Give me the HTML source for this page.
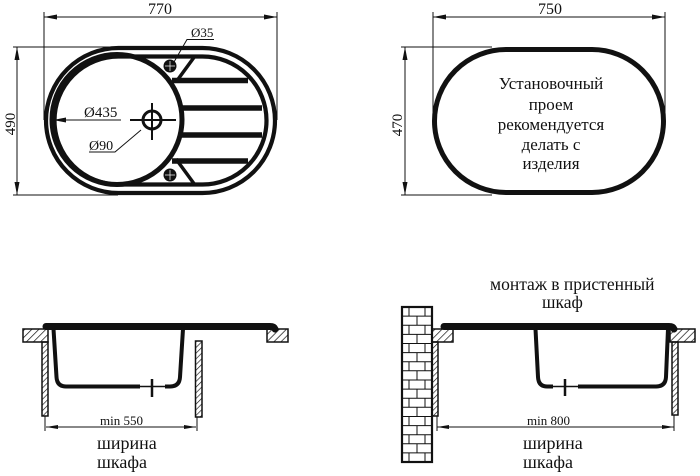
<!DOCTYPE html>
<html>
<head>
<meta charset="utf-8">
<style>
html,body{margin:0;padding:0;background:#fff;}
svg{display:block;}
text{font-family:"Liberation Serif","Noto Serif CJK SC",serif;fill:#111;}
</style>
</head>
<body>
<svg width="700" height="476" viewBox="0 0 700 476" xmlns="http://www.w3.org/2000/svg">
<defs>
<pattern id="h" width="5" height="5" patternUnits="userSpaceOnUse" patternTransform="rotate(45)">
<line x1="0" y1="0" x2="0" y2="5" stroke="#111" stroke-width="1.4"/>
</pattern>
<pattern id="h2" width="4" height="4" patternUnits="userSpaceOnUse" patternTransform="rotate(45)">
<line x1="0" y1="0" x2="0" y2="4" stroke="#111" stroke-width="1.3"/>
</pattern>
</defs>

<!-- ================= TOP LEFT: sink plan ================= -->
<g stroke="#111" fill="none" stroke-width="1">
  <!-- 770 dimension -->
  <line x1="44" y1="12" x2="44" y2="120"/>
  <line x1="277" y1="12" x2="277" y2="120"/>
  <line x1="44" y1="17" x2="277" y2="17"/>
  <!-- 490 dimension -->
  <line x1="13" y1="47" x2="118" y2="47"/>
  <line x1="13" y1="195" x2="118" y2="195"/>
  <line x1="17" y1="47" x2="17" y2="195"/>
</g>
<g fill="#111">
  <polygon points="44,17 57,14.5 57,19.5"/>
  <polygon points="277,17 264,14.5 264,19.5"/>
  <polygon points="17,47 14.5,60 19.5,60"/>
  <polygon points="17,195 14.5,182 19.5,182"/>
</g>
<text x="160" y="14" font-size="16" text-anchor="middle">770</text>
<text x="0" y="0" font-size="15" text-anchor="middle" transform="translate(15,124) rotate(-90)">490</text>

<!-- outer outlines -->
<path d="M118.5,48 H202.5 A72.5,72.5 0 0 1 202.5,193 H118.5 A72.5,72.5 0 0 1 118.5,48 Z" fill="none" stroke="#111" stroke-width="4.2"/>
<path d="M118.5,56.5 H202.5 A64,64 0 0 1 202.5,184.5 H118.5 A64,64 0 0 1 118.5,56.5 Z" fill="none" stroke="#111" stroke-width="4.2"/>
<!-- bowl circle -->
<circle cx="117" cy="119.5" r="65" fill="none" stroke="#111" stroke-width="5"/>
<!-- drainboard bars -->
<g stroke="#111" stroke-width="5.5" stroke-linecap="butt">
  <line x1="172" y1="80.5" x2="248" y2="80.5"/>
  <line x1="179" y1="108" x2="262" y2="108"/>
  <line x1="179" y1="135" x2="262" y2="135"/>
  <line x1="172" y1="161" x2="248" y2="161"/>
</g>
<!-- V arms -->
<g stroke="#111" stroke-width="3.5">
  <line x1="195" y1="56" x2="176" y2="82"/>
  <line x1="195" y1="185" x2="176" y2="159"/>
</g>
<!-- small holes -->
<g>
  <circle cx="170" cy="66" r="6.5" fill="#111"/>
  <circle cx="170" cy="175" r="6.5" fill="#111"/>
  <g stroke="#fff" stroke-width="0.7">
    <line x1="165" y1="66" x2="175" y2="66"/><line x1="170" y1="61" x2="170" y2="71"/>
    <line x1="165" y1="175" x2="175" y2="175"/><line x1="170" y1="170" x2="170" y2="180"/>
  </g>
</g>
<!-- drain -->
<circle cx="152" cy="120" r="9" fill="none" stroke="#111" stroke-width="3"/>
<g stroke="#111" stroke-width="2">
  <line x1="130" y1="120" x2="176" y2="120"/>
  <line x1="152" y1="103" x2="152" y2="140"/>
</g>
<!-- Ø435 -->
<line x1="55" y1="120" x2="121" y2="120" stroke="#111" stroke-width="1"/>
<polygon points="53,120 66,117.5 66,122.5" fill="#111"/>
<text x="84" y="117" font-size="15">Ø435</text>
<!-- Ø90 -->
<text x="89" y="150" font-size="14">Ø90</text>
<polyline points="89,152 115,152 141,130" fill="none" stroke="#111" stroke-width="1"/>
<!-- Ø35 -->
<text x="191" y="37" font-size="13">Ø35</text>
<polyline points="214,39.5 187,39.5 174,62" fill="none" stroke="#111" stroke-width="1"/>

<!-- ================= TOP RIGHT: cutout ================= -->
<g stroke="#111" fill="none" stroke-width="1">
  <line x1="433" y1="12" x2="433" y2="120"/>
  <line x1="665" y1="12" x2="665" y2="120"/>
  <line x1="433" y1="17" x2="665" y2="17"/>
  <line x1="401" y1="47" x2="492" y2="47"/>
  <line x1="401" y1="195" x2="492" y2="195"/>
  <line x1="405" y1="47" x2="405" y2="195"/>
</g>
<g fill="#111">
  <polygon points="433,17 446,14.5 446,19.5"/>
  <polygon points="665,17 652,14.5 652,19.5"/>
  <polygon points="405,47 402.5,60 407.5,60"/>
  <polygon points="405,195 402.5,182 407.5,182"/>
</g>
<text x="550" y="14" font-size="16" text-anchor="middle">750</text>
<text x="0" y="0" font-size="15" text-anchor="middle" transform="translate(402,125) rotate(-90)">470</text>
<path d="M506,49.5 H592 A71.5,71.5 0 0 1 592,192.5 H506 A71.5,71.5 0 0 1 506,49.5 Z" fill="none" stroke="#111" stroke-width="5"/>
<g font-size="17" text-anchor="middle">
  <text x="551" y="89">Установочный</text>
  <text x="551" y="110">проем</text>
  <text x="551" y="130">рекомендуется</text>
  <text x="551" y="150">делать с</text>
  <text x="551" y="169">изделия</text>
</g>

<!-- ================= BOTTOM LEFT: section ================= -->
<!-- countertop blocks -->
<rect x="23" y="329" width="25" height="13" fill="url(#h)" stroke="#111" stroke-width="1.5"/>
<rect x="267" y="329" width="21" height="13" fill="url(#h)" stroke="#111" stroke-width="1.5"/>
<!-- cabinet walls -->
<rect x="42" y="342" width="6" height="74" fill="url(#h2)" stroke="#111" stroke-width="1.5"/>
<rect x="195.5" y="341" width="6.5" height="76" fill="url(#h2)" stroke="#111" stroke-width="1.5"/>
<!-- rim -->
<path d="M46,326.5 H270 Q274,326.5 275,329" fill="none" stroke="#111" stroke-width="7" stroke-linecap="round"/>
<!-- bowl -->
<path d="M140,386.5 H66 Q57,386.5 56.5,377 L53.5,329" fill="none" stroke="#111" stroke-width="4"/>
<path d="M165,386.5 H170 Q179.5,386.5 180,377 L183,329" fill="none" stroke="#111" stroke-width="4"/>
<line x1="140" y1="386.5" x2="165" y2="386.5" stroke="#111" stroke-width="1.6"/>
<line x1="152" y1="379" x2="152" y2="397" stroke="#111" stroke-width="2.5"/>
<!-- dimension -->
<g stroke="#111" stroke-width="1">
  <line x1="45" y1="416" x2="45" y2="431"/>
  <line x1="197" y1="417" x2="197" y2="431"/>
  <line x1="46" y1="427" x2="196" y2="427"/>
</g>
<polygon points="46,427 58,425 58,429" fill="#111"/>
<polygon points="196,427 184,425 184,429" fill="#111"/>
<text x="100" y="425" font-size="13">min 550</text>
<text x="97" y="449" font-size="18">ширина</text>
<text x="97" y="468" font-size="18">шкафа</text>

<!-- ================= BOTTOM RIGHT: wall mount ================= -->
<text x="490" y="290" font-size="17.5">монтаж в пристенный</text>
<text x="542" y="308" font-size="17.5">шкаф</text>
<!-- brick wall -->
<rect x="402" y="307" width="30" height="155" fill="#fff" stroke="#111" stroke-width="2.2"/>
<path fill="none" stroke="#111" stroke-width="1"
 d="M402,316.1H432 M402,325.2H432 M402,334.4H432 M402,343.5H432 M402,352.6H432 M402,361.7H432 M402,370.8H432 M402,380H432 M402,389.1H432 M402,398.2H432 M402,407.3H432 M402,416.5H432 M402,425.6H432 M402,434.7H432 M402,443.8H432 M402,452.9H432
 M409,307V316.1 M425,307V316.1
 M417,316.1V325.2
 M409,325.2V334.4 M425,325.2V334.4
 M417,334.4V343.5
 M409,343.5V352.6 M425,343.5V352.6
 M417,352.6V361.7
 M409,361.7V370.8 M425,361.7V370.8
 M417,370.8V380
 M409,380V389.1 M425,380V389.1
 M417,389.1V398.2
 M409,398.2V407.3 M425,398.2V407.3
 M417,407.3V416.5
 M409,416.5V425.6 M425,416.5V425.6
 M417,425.6V434.7
 M409,434.7V443.8 M425,434.7V443.8
 M417,443.8V452.9
 M409,452.9V462 M425,452.9V462"/>
<!-- countertop blocks -->
<rect x="432" y="329" width="21" height="13" fill="url(#h)" stroke="#111" stroke-width="1.5"/>
<rect x="670" y="329" width="25" height="13" fill="url(#h)" stroke="#111" stroke-width="1.5"/>
<!-- cabinet walls -->
<rect x="432" y="342" width="6" height="74" fill="url(#h2)" stroke="#111" stroke-width="1.5"/>
<rect x="672" y="342" width="6" height="73" fill="url(#h2)" stroke="#111" stroke-width="1.5"/>
<!-- rim -->
<path d="M444,326.5 H669 Q673,326.5 674,329" fill="none" stroke="#111" stroke-width="7" stroke-linecap="round"/>
<!-- bowl -->
<path d="M553,386.5 H547 Q538.5,386.5 538,377 L535.5,329" fill="none" stroke="#111" stroke-width="4"/>
<path d="M578,386.5 H656 Q665.5,386.5 666,377 L668,329" fill="none" stroke="#111" stroke-width="4"/>
<line x1="553" y1="386.5" x2="578" y2="386.5" stroke="#111" stroke-width="1.6"/>
<line x1="565" y1="379" x2="565" y2="396" stroke="#111" stroke-width="2.5"/>
<!-- dimension -->
<g stroke="#111" stroke-width="1">
  <line x1="437" y1="416" x2="437" y2="431"/>
  <line x1="674" y1="415" x2="674" y2="431"/>
  <line x1="437" y1="427" x2="674" y2="427"/>
</g>
<polygon points="437,427 449,425 449,429" fill="#111"/>
<polygon points="674,427 662,425 662,429" fill="#111"/>
<text x="527" y="425" font-size="13">min 800</text>
<text x="523" y="449" font-size="18">ширина</text>
<text x="523" y="468" font-size="18">шкафа</text>
</svg>
</body>
</html>
